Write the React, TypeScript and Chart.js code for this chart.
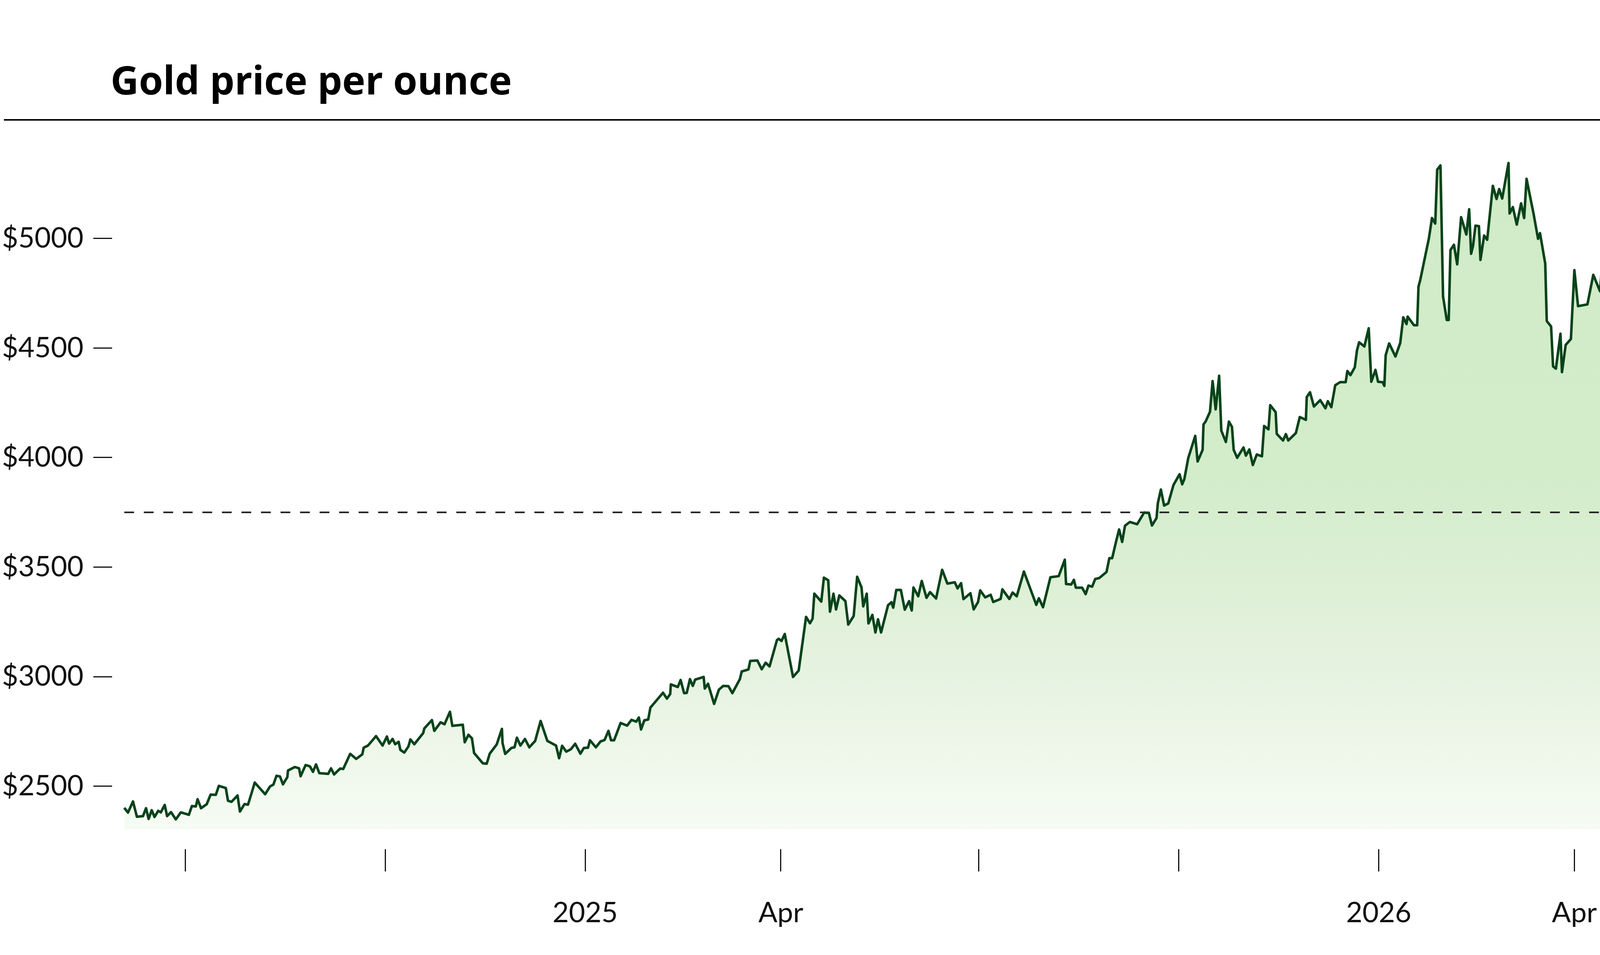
import { useEffect, useRef } from 'react';
import { Chart, registerables } from 'chart.js';

Chart.register(...registerables);

// days counted from 2024-06-03, one value per trading session
const dayOffsets = [
  0, 1.7, 4.0, 5.8, 8.6, 10.0, 11.2, 12.6, 13.9, 15.6,
  16.8, 18.6, 19.7, 21.5, 23.7, 26.0, 29.7, 31.1, 32.9, 33.7,
  35.3, 37.9, 39.7, 42.1, 43.5, 46.7, 47.7, 49.3, 52.1, 53.2,
  55.3, 56.9, 58.4, 60.0, 64.8, 67.0, 68.6, 70.0, 71.6, 73.0,
  75.0, 75.3, 78.4, 80.4, 81.1, 83.4, 85.4, 86.8, 88.2, 89.7,
  93.8, 95.1, 96.5, 99.3, 100.7, 103.9, 106.7, 109.5, 110.1, 112.1,
  115.8, 118.8, 120.8, 121.8, 123.4, 124.6, 126.2, 127.0, 128.8, 130.7,
  131.6, 133.4, 137.5, 138.0, 141.5, 142.6, 145.5, 147.3, 149.8, 150.9,
  155.7, 156.6, 158.3, 159.9, 160.9, 164.9, 166.7, 168.1, 171.3, 173.7,
  174.0, 175.2, 178.1, 179.5, 180.6, 182.2, 184.3, 186.3, 189.0, 191.5,
  194.6, 198.6, 200.0, 201.4, 203.3, 205.4, 207.4, 209.8, 211.4, 213.3,
  214.2, 216.9, 219.1, 220.9, 222.7, 223.9, 225.3, 228.3, 231.3, 233.3,
  235.5, 236.7, 237.7, 239.2, 241.0, 242.0, 247.8, 249.6, 251.1, 251.4,
  254.6, 255.9, 257.5, 258.7, 260.2, 261.5, 262.6, 266.5, 267.0, 268.5,
  271.3, 273.5, 275.5, 277.9, 279.7, 283.2, 284.0, 287.1, 287.9, 291.2,
  293.2, 295.0, 296.8, 300.2, 301.0, 302.3, 303.8, 307.6, 310.2, 313.6,
  315.4, 316.6, 317.4, 320.6, 321.8, 323.8, 324.6, 326.2, 327.4, 328.9,
  331.7, 333.0, 335.5, 337.1, 339.1, 339.9, 341.5, 342.3, 344.1, 345.5,
  346.7, 348.1, 351.3, 352.9, 353.7, 355.1, 357.2, 359.0, 361.0, 362.2,
  363.0, 365.2, 366.8, 369.0, 370.6, 373.4, 376.2, 378.6, 382.0, 383.3,
  384.9, 386.0, 389.2, 390.7, 392.7, 393.7, 396.0, 398.5, 399.7, 403.1,
  403.9, 407.1, 408.6, 410.5, 413.8, 419.5, 420.7, 422.6, 426.0, 429.8,
  432.6, 433.2, 435.6, 436.8, 437.7, 440.6, 442.2, 443.5, 445.2, 446.6,
  448.4, 451.8, 453.1, 454.4, 456.2, 457.6, 459.0, 460.3, 462.5, 465.9,
  469.1, 471.3, 472.7, 474.8, 475.4, 476.8, 478.3, 480.2, 482.6, 485.4,
  486.6, 487.6, 489.4, 492.6, 493.7, 496.0, 496.4, 497.4, 499.4, 500.6,
  502.0, 503.6, 504.6, 506.7, 508.1, 509.5, 510.3, 511.9, 514.8, 515.9,
  517.5, 519.1, 520.9, 523.3, 524.3, 526.3, 527.1, 529.6, 530.1, 533.0,
  534.3, 535.4, 538.9, 540.7, 543.5, 543.9, 545.4, 547.2, 550.1, 552.5,
  553.6, 555.2, 557.0, 559.2, 561.8, 562.6, 564.0, 566.0, 567.0, 568.0,
  570.4, 572.4, 573.6, 575.5, 576.7, 578.8, 579.6, 580.2, 581.8, 584.7,
  586.9, 588.3, 589.8, 590.3, 593.2, 594.7, 595.3, 596.1, 598.4, 600.1,
  601.5, 603.0, 603.9, 605.4, 606.6, 608.3, 609.2, 610.0, 611.6, 613.1,
  614.9, 617.3, 618.6, 619.5, 620.4, 621.5, 623.1, 623.8, 625.5, 626.9,
  629.5, 631.2, 632.4, 633.8, 636.7, 637.2, 638.7, 640.5, 642.5, 643.9,
  645.0, 648.2, 650.3, 651.2, 653.6, 654.3, 656.3, 657.2, 658.5, 660.6,
  661.3, 663.0, 665.4, 667.0, 668.7, 673.0, 675.7, 678.8, 679.7, 682.6,
  684.0, 685.7, 687.0, 688.5, 689.7, 691.2, 694.6,
];

const prices = [
  2402, 2380, 2431, 2361, 2364, 2400, 2351, 2391, 2360, 2388,
  2381, 2415, 2364, 2382, 2349, 2381, 2370, 2410, 2408, 2441,
  2400, 2418, 2462, 2461, 2502, 2492, 2434, 2429, 2458, 2385,
  2419, 2416, 2464, 2517, 2464, 2499, 2508, 2548, 2545, 2509,
  2542, 2572, 2588, 2582, 2546, 2597, 2591, 2566, 2600, 2560,
  2557, 2582, 2554, 2581, 2579, 2648, 2625, 2646, 2676, 2686,
  2729, 2686, 2727, 2695, 2716, 2692, 2703, 2666, 2654, 2682,
  2714, 2692, 2743, 2764, 2802, 2753, 2792, 2783, 2840, 2776,
  2781, 2701, 2735, 2719, 2652, 2605, 2603, 2649, 2691, 2762,
  2697, 2648, 2675, 2678, 2722, 2686, 2716, 2678, 2707, 2798,
  2707, 2686, 2628, 2685, 2658, 2669, 2694, 2649, 2675, 2676,
  2710, 2678, 2705, 2711, 2753, 2710, 2710, 2789, 2777, 2803,
  2795, 2814, 2759, 2801, 2805, 2859, 2927, 2900, 2921, 2965,
  2953, 2985, 2925, 2926, 2989, 2958, 2987, 2999, 2946, 2968,
  2876, 2941, 2958, 2957, 2925, 2990, 3024, 3033, 3072, 3074,
  3034, 3064, 3047, 3167, 3173, 3163, 3195, 2999, 3028, 3273,
  3244, 3265, 3379, 3343, 3452, 3440, 3297, 3379, 3307, 3371,
  3345, 3238, 3277, 3456, 3408, 3321, 3379, 3243, 3282, 3202,
  3262, 3202, 3326, 3340, 3315, 3396, 3396, 3306, 3345, 3302,
  3407, 3367, 3437, 3360, 3386, 3357, 3488, 3425, 3431, 3403,
  3427, 3354, 3381, 3307, 3341, 3394, 3362, 3374, 3341, 3355,
  3399, 3355, 3384, 3367, 3480, 3328, 3358, 3317, 3454, 3459,
  3534, 3423, 3421, 3442, 3406, 3406, 3377, 3416, 3411, 3446,
  3450, 3478, 3541, 3541, 3617, 3672, 3615, 3689, 3706, 3696,
  3749, 3747, 3690, 3724, 3792, 3854, 3781, 3791, 3875, 3924,
  3878, 3902, 3998, 4099, 3982, 4035, 4151, 4165, 4209, 4349,
  4220, 4373, 4123, 4071, 4164, 4140, 4035, 3999, 4046, 4009,
  4037, 3966, 4014, 4006, 4144, 4129, 4239, 4207, 4108, 4078,
  4107, 4078, 4112, 4185, 4172, 4276, 4298, 4233, 4262, 4225,
  4257, 4230, 4330, 4344, 4344, 4395, 4376, 4412, 4489, 4526,
  4507, 4590, 4346, 4400, 4346, 4344, 4327, 4467, 4521, 4461,
  4523, 4640, 4609, 4643, 4604, 4604, 4780, 4810, 4920, 5001,
  5093, 5068, 5314, 5333, 4735, 4628, 4628, 4947, 4971, 4882,
  5097, 5018, 5133, 4930, 4967, 5058, 5056, 4902, 5013, 4994,
  5240, 5180, 5225, 5182, 5344, 5114, 5143, 5063, 5160, 5093,
  5272, 5114, 4998, 5024, 4885, 4623, 4598, 4416, 4406, 4565,
  4390, 4514, 4541, 4855, 4691, 4699, 4834, 4759, 4875, 4804,
  4904, 4824, 4713, 4758, 4732, 4761, 4563,
];

const startDate = '2024-06-03';
const referencePrice = 3750;
const fillFloor = 2304;

const yTicks = [2500, 3000, 3500, 4000, 4500, 5000];
const xTickDates = [
  '2024-07-01', '2024-10-01', '2025-01-01', '2025-04-01',
  '2025-07-01', '2025-10-01', '2026-01-01', '2026-04-01',
];
const xTickLabels = ['', '', '2025', 'Apr', '', '', '2026', 'Apr'];

const LINE_GREEN = '#07431a';
const INK = '#111111';

const daysSinceStart = (iso: string) =>
  (Date.parse(iso) - Date.parse(startDate)) / 86400000;

export default function App() {
  const chartRef = useRef<HTMLCanvasElement>(null);
  const chartInstance = useRef<Chart | null>(null);

  useEffect(() => {
    document.body.style.margin = '0';
    if (!chartRef.current) return;
    if (chartInstance.current) chartInstance.current.destroy();

    const points = dayOffsets.map((d, i) => ({ x: d, y: prices[i] }));
    const lastDay = dayOffsets[dayOffsets.length - 1];
    const xTickDays = xTickDates.map(daysSinceStart);

    chartInstance.current = new Chart(chartRef.current, {
      type: 'line',
      data: {
        datasets: [
          {
            label: 'Gold price',
            data: points,
            borderColor: LINE_GREEN,
            borderWidth: 6.5,
            borderJoinStyle: 'round',
            pointRadius: 0,
            tension: 0,
            fill: { value: fillFloor },
            backgroundColor: (context: any) => {
              const { chart } = context;
              const area = chart.chartArea;
              if (!area) return 'rgba(210, 235, 200, 0.8)';
              const bottom = chart.scales.y.getPixelForValue(fillFloor);
              const g = chart.ctx.createLinearGradient(0, area.top, 0, bottom);
              g.addColorStop(0, '#d1eac7');
              g.addColorStop(0.5, '#d3ecca');
              g.addColorStop(0.76, '#e5f2df');
              g.addColorStop(1, '#f6fbf3');
              return g;
            },
            order: 0,
          },
          {
            label: 'Reference',
            data: [
              { x: 0, y: referencePrice },
              { x: lastDay, y: referencePrice },
            ],
            borderColor: '#1c1c1c',
            borderWidth: 4,
            borderDash: [25, 25],
            pointRadius: 0,
            fill: false,
            order: 1,
          },
        ],
      },
      options: {
        responsive: true,
        maintainAspectRatio: false,
        animation: false,
        layout: { padding: { top: 330, left: 5, right: 262, bottom: 0 } },
        plugins: {
          legend: { display: false },
          tooltip: { enabled: false },
          filler: { drawTime: 'beforeDatasetsDraw' },
        },
        scales: {
          x: {
            type: 'linear',
            min: -5.6,
            max: lastDay,
            afterBuildTicks: (scale: any) => {
              scale.ticks = xTickDays.map((v) => ({ value: v }));
            },
            afterFit: (scale: any) => {
              scale.height = 271;
            },
            grid: {
              drawOnChartArea: false,
              tickLength: 57,
              color: INK,
              lineWidth: 3,
            },
            border: { display: false },
            ticks: {
              autoSkip: false,
              maxRotation: 0,
              padding: 64,
              color: INK,
              font: { family: 'Lato', size: 72 },
              callback: (_value: any, index: number) => xTickLabels[index] ?? '',
            },
          },
          y: {
            type: 'linear',
            min: 2213,
            max: 5500,
            afterBuildTicks: (scale: any) => {
              scale.ticks = yTicks.map((v) => ({ value: v }));
            },
            afterFit: (scale: any) => {
              scale.width = 282;
            },
            grid: {
              drawOnChartArea: false,
              tickLength: 48,
              color: INK,
              lineWidth: 3,
            },
            border: { display: false },
            ticks: {
              crossAlign: 'far',
              padding: 36,
              color: INK,
              font: { family: 'Lato', size: 72 },
              callback: (value: any) => `$${value}`,
            },
          },
        },
      },
    });

    return () => {
      if (chartInstance.current) {
        chartInstance.current.destroy();
        chartInstance.current = null;
      }
    };
  }, []);

  return (
    <div style={{ position: 'relative', width: 4446, height: 2446, background: '#fff', overflow: 'hidden' }}>
      <div style={{ position: 'absolute', left: 0, top: 0, width: 4446, height: 2446 }}>
        <canvas ref={chartRef}></canvas>
      </div>
      <div
        style={{
          position: 'absolute',
          left: 283,
          top: 153,
          fontFamily: '"Open Sans"',
          fontWeight: 700,
          fontSize: 100,
          lineHeight: '100px',
          color: '#000',
          whiteSpace: 'nowrap',
        }}
      >
        Gold price per ounce
      </div>
      <div style={{ position: 'absolute', left: 10, right: 0, top: 305, height: 4, background: '#000' }} />
    </div>
  );
}
